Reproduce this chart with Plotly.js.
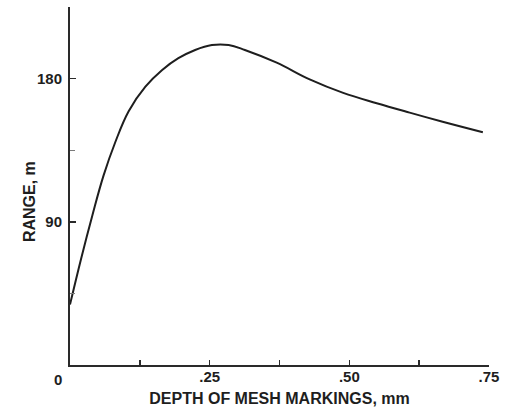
<!DOCTYPE html>
<html>
<head>
<meta charset="utf-8">
<script src="https://cdn.plot.ly/plotly-3.0.1.min.js"></script>
<style>
  html, body { margin: 0; padding: 0; background: #ffffff; }
  #chart { width: 507px; height: 410px; }
</style>
</head>
<body>
<div id="chart"></div>
<script>
// Range (m) as a function of depth of mesh markings (mm)
const depthMm = [0, 0.02, 0.04, 0.06, 0.081, 0.105, 0.135, 0.165, 0.194,
                 0.224, 0.254, 0.284, 0.313, 0.37, 0.429, 0.489, 0.549,
                 0.608, 0.667, 0.739];
const rangeM = [38, 67, 94, 119, 140, 159.5, 174.9, 185.4, 192.8,
                198, 201.1, 201.1, 198, 190, 179.5, 171, 164.5,
                158.6, 152.9, 146.3];

// Axis ticks
const xTickVals = [0.25, 0.5, 0.75];
const xTickText = ['.25', '.50', '.75'];
const xMinorVals = [0.125, 0.375, 0.625];
const yTickVals = [0, 90, 180, 225];
const yTickText = ['', '90', '180', ''];
const yMinorVals = [45, 135];

const ink = '#1e1e1e';
const family = 'Liberation Sans, Arial, sans-serif';
const tickFont = { family: family, size: 15, color: ink, weight: 'bold' };

const trace = {
  x: depthMm,
  y: rangeM,
  type: 'scatter',
  mode: 'lines',
  line: { color: ink, width: 2, shape: 'spline', smoothing: 1.1 },
  hoverinfo: 'skip'
};

const layout = {
  width: 507,
  height: 410,
  margin: { l: 69.5, r: 17.5, t: 7, b: 45 },
  paper_bgcolor: '#ffffff',
  plot_bgcolor: '#ffffff',
  showlegend: false,
  font: tickFont,
  xaxis: {
    range: [0, 0.75],
    showgrid: false,
    zeroline: false,
    showline: true,
    linecolor: '#2a2a2a',
    linewidth: 2,
    ticks: 'inside',
    ticklen: 5,
    tickwidth: 1.5,
    tickcolor: '#2a2a2a',
    tickmode: 'array',
    tickvals: xTickVals,
    ticktext: xTickText,
    tickfont: tickFont,
    ticklabelstandoff: -3,
    minor: { tickmode: 'array', tickvals: xMinorVals, ticks: 'inside', ticklen: 5,
             tickwidth: 1.5, tickcolor: '#2a2a2a', showgrid: false },
    title: { text: 'DEPTH OF MESH MARKINGS, mm',
             font: { family: family, size: 16, color: ink, weight: 'bold' }, standoff: 9 }
  },
  yaxis: {
    range: [0, 225],
    showgrid: false,
    zeroline: false,
    showline: true,
    linecolor: '#2a2a2a',
    linewidth: 2,
    ticks: 'inside',
    ticklen: 6,
    tickwidth: 1.5,
    tickcolor: '#2a2a2a',
    tickmode: 'array',
    tickvals: yTickVals,
    ticktext: yTickText,
    tickfont: tickFont,
    ticklabelstandoff: 3,
    minor: { tickmode: 'array', tickvals: yMinorVals, ticks: 'inside', ticklen: 5,
             tickwidth: 1, tickcolor: '#7a7a7a', showgrid: false }
  },
  annotations: [
    {
      // shared origin label
      text: '0', x: 0, y: 0, xref: 'x', yref: 'y',
      showarrow: false, xanchor: 'center', yanchor: 'top',
      xshift: -12, yshift: -4, font: tickFont
    },
    {
      text: 'RANGE, m', textangle: -90,
      xref: 'paper', yref: 'paper', x: 0, y: 0.455,
      xshift: -41, xanchor: 'center', yanchor: 'middle',
      showarrow: false, font: { family: family, size: 16, color: ink, weight: 'bold' }
    }
  ]
};

Plotly.newPlot('chart', [trace], layout, { displayModeBar: false, staticPlot: true });
</script>
</body>
</html>
